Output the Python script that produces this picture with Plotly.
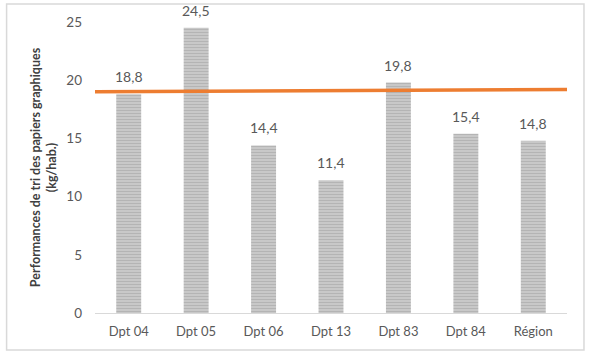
import plotly.graph_objects as go

categories = ["Dpt 04", "Dpt 05", "Dpt 06", "Dpt 13", "Dpt 83", "Dpt 84", "Région"]
values = [18.8, 24.5, 14.4, 11.4, 19.8, 15.4, 14.8]
value_labels = ["18,8", "24,5", "14,4", "11,4", "19,8", "15,4", "14,8"]
ref_x = [-0.5, 6.65]
ref_y = [19.0, 19.2]
y_ticks = [0, 5, 10, 15, 20, 25]

W, H = 600, 356
L, R, T, B = 94.5, 33, 22, 43
pw, ph = W - L - R, H - T - B

xs = list(range(len(categories)))

fig = go.Figure()
fig.add_trace(go.Bar(
    x=xs, y=values,
    width=0.37,
    marker=dict(color="#c0c0c0", line=dict(width=0),
                pattern=dict(shape="-", fgcolor="#999999", bgcolor="#cfcfcf",
                             size=3, solidity=0.5)),
    showlegend=False,
))
fig.add_trace(go.Scatter(
    x=ref_x, y=ref_y, mode="lines", cliponaxis=False,
    line=dict(color="#ED7D31", width=3.5), showlegend=False,
))

for xi, v, lab in zip(xs, values, value_labels):
    fig.add_annotation(x=xi, y=v, text=lab, showarrow=False, yanchor="bottom",
                       yshift=7, font=dict(size=14, color="#595959"))

fig.update_layout(
    width=W, height=H,
    margin=dict(l=L, r=R, t=T, b=B, autoexpand=False),
    paper_bgcolor="white", plot_bgcolor="white",
    font=dict(family="Lato, Open Sans, sans-serif", color="#595959"),
    xaxis=dict(range=[-0.5, 6.5], tickmode="array", automargin=False,
               tickvals=xs, ticktext=categories,
               showgrid=False, zeroline=False, showline=True,
               linecolor="#d9d9d9", linewidth=1, ticks="",
               tickfont=dict(size=13, color="#595959"),
               ticklabelstandoff=6),
    yaxis=dict(range=[0, 25], tickvals=y_ticks, showgrid=False, automargin=False,
               zeroline=False, showline=False, ticks="",
               tickfont=dict(size=13.5, color="#595959"),
               ticklabelstandoff=12,
               title=dict(text="Performances de tri des papiers graphiques<br>(kg/hab.)",
                          font=dict(size=12.5, color="#404040", weight="bold"),
                          standoff=6)),
    shapes=[dict(type="rect", xref="paper", yref="paper",
                 x0=(6 - L) / pw, x1=(584 - L) / pw,
                 y0=(H - B - 350) / ph, y1=(H - B - 4) / ph,
                 line=dict(color="#d9d9d9", width=1.5), layer="above")],
)

fig.write_html("out.html", config={"displayModeBar": False},
               post_script="document.body.style.margin='0';document.body.style.overflow='hidden';")
